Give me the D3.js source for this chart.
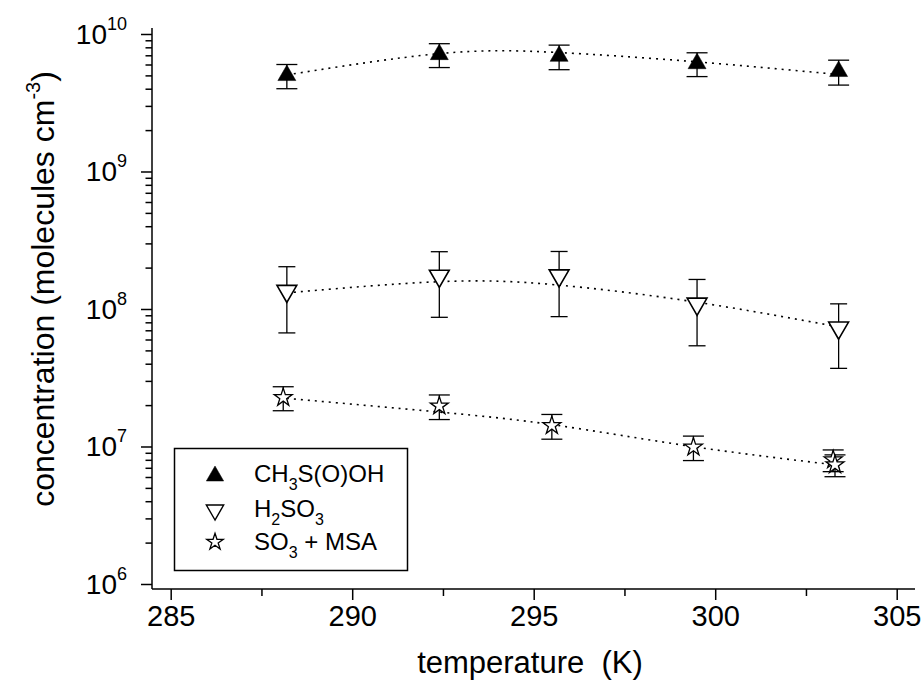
<!DOCTYPE html>
<html>
<head>
<meta charset="utf-8">
<script src="https://cdn.jsdelivr.net/npm/d3@7"></script>
<style>
  body { margin: 0; background: #fff; }
  text { font-family: "Liberation Sans", Arial, Helvetica, sans-serif; fill: #000; white-space: pre; }
</style>
</head>
<body>
<div id="chart"></div>
<script>
// temperatures (K)
var tempTri = [288.2, 292.4, 295.7, 299.5, 303.4];
var tempStar = [288.1, 292.4, 295.5, 299.4, 303.25, 303.3];

// concentrations (molecules cm-3) and +/- errors
var ch3Val = [5.0e9, 7.1e9, 6.9e9, 6.1e9, 5.35e9];
var ch3Err = [1.0e9, 1.4e9, 1.4e9, 1.2e9, 1.1e9];
var h2so3Val = [1.35e8, 1.74e8, 1.75e8, 1.09e8, 7.3e7];
var h2so3Err = [6.8e7, 8.7e7, 8.7e7, 5.5e7, 3.6e7];
var so3Val = [2.27e7, 1.97e7, 1.42e7, 9.9e6, 8.0e6, 7.36e6];
var so3Err = [4.5e6, 4.0e6, 2.9e6, 2.0e6, 1.44e6, 1.33e6];

// dotted fit curves
var fitT = [288.2, 292.4, 295.6, 299.4, 303.3];
var ch3Fit = [5.04e9, 7.2e9, 7.35e9, 6.3e9, 5.1e9];
var h2so3Fit = [1.31e8, 1.58e8, 1.50e8, 1.13e8, 7.5e7];
var so3Fit = [2.24e7, 1.78e7, 1.43e7, 9.97e6, 7.35e6];

var xTicks = [285, 290, 295, 300, 305];
var xMinor = [287.5, 292.5, 297.5, 302.5];
var yExp = [6, 7, 8, 9, 10];

var W = 924, H = 695;
var pLeft = 152, pRight = 915, pTop = 28, pBottom = 589;

var svg = d3.select("#chart")
    .append("svg")
    .attr("width", W)
    .attr("height", H);

var x = d3.scaleLinear()
    .domain([284.485, 305.504])
    .range([pLeft, pRight]);

var y = d3.scaleLog()
    .domain([Math.pow(10, 5.9636), Math.pow(10, 10.0436)])
    .range([pBottom, pTop]);

// x axis
var xAxis = svg.append("g")
    .attr("transform", "translate(0," + pBottom + ")")
    .call(d3.axisBottom(x).tickValues(xTicks).tickSize(11).tickFormat(d3.format("d")));
xAxis.selectAll(".tick text")
    .style("font-size", "29px")
    .attr("y", 16)
    .attr("dy", "0.71em");

svg.append("g")
    .attr("transform", "translate(0," + pBottom + ")")
    .call(d3.axisBottom(x).tickValues(xMinor).tickSize(7).tickFormat(""))
    .select(".domain").remove();

// y axis (log)
var yMinorVals = [];
for (var e = 6; e < 10; e++) {
    for (var m = 2; m <= 9; m++) yMinorVals.push(m * Math.pow(10, e));
}
var yMajor = yExp.map(function (k) { return Math.pow(10, k); });

var yAxis = svg.append("g")
    .attr("transform", "translate(" + pLeft + ",0)")
    .call(d3.axisLeft(y).tickValues(yMajor).tickSize(11).tickFormat(""));

svg.append("g")
    .attr("transform", "translate(" + pLeft + ",0)")
    .call(d3.axisLeft(y).tickValues(yMinorVals).tickSize(6.5).tickFormat(""))
    .select(".domain").remove();

svg.selectAll(".domain, .tick line").attr("stroke", "#000").attr("stroke-width", 1.5);
xAxis.select(".domain").attr("d", "M" + pLeft + ",0H" + pRight);
yAxis.select(".domain").attr("d", "M0," + pBottom + "V" + pTop);

// y tick labels: 10^n
yExp.forEach(function (k) {
    var t = svg.append("text")
        .attr("text-anchor", "end")
        .attr("x", 127)
        .attr("y", y(Math.pow(10, k)) + 10)
        .style("font-size", "28px");
    t.append("tspan").text("10");
    t.append("tspan").attr("dy", -14).style("font-size", "18px").text(k);
});

// dotted fits
var line = d3.line()
    .x(function (d) { return x(d[0]); })
    .y(function (d) { return y(d[1]); })
    .curve(d3.curveNatural);

[ch3Fit, h2so3Fit, so3Fit].forEach(function (f) {
    svg.append("path")
        .datum(fitT.map(function (t, i) { return [t, f[i]]; }))
        .attr("fill", "none")
        .attr("stroke", "#000")
        .attr("stroke-width", 1.6)
        .attr("stroke-dasharray", "2,5")
        .attr("d", line);
});

// error bars + markers
function drawSeries(temps, vals, errs, capW, sym) {
    var g = svg.append("g");
    temps.forEach(function (t, i) {
        var cx = x(t), y1 = y(vals[i] + errs[i]), y2 = y(vals[i] - errs[i]);
        g.append("line").attr("x1", cx).attr("x2", cx).attr("y1", y1).attr("y2", y2)
            .attr("stroke", "#000").attr("stroke-width", 1.3);
        [y1, y2].forEach(function (yy) {
            g.append("line").attr("x1", cx - capW / 2).attr("x2", cx + capW / 2)
                .attr("y1", yy).attr("y2", yy)
                .attr("stroke", "#000").attr("stroke-width", 1.3);
        });
    });
    temps.forEach(function (t, i) {
        g.append("path")
            .attr("transform", "translate(" + x(t) + "," + y(vals[i]) + ")" + (sym.rot ? " rotate(180)" : ""))
            .attr("d", d3.symbol().type(sym.type).size(sym.size)())
            .attr("fill", sym.fill)
            .attr("stroke", "#000")
            .attr("stroke-width", sym.sw);
    });
}

var triUp = { type: d3.symbolTriangle, size: 140, fill: "#000", sw: 0.5, rot: false };
var triDown = { type: d3.symbolTriangle, size: 170, fill: "#fff", sw: 1.6, rot: true };
var star = { type: d3.symbolStar, size: 100, fill: "#fff", sw: 1.3, rot: false };

drawSeries(tempTri, ch3Val, ch3Err, 21, triUp);
drawSeries(tempTri, h2so3Val, h2so3Err, 17, triDown);
drawSeries(tempStar, so3Val, so3Err, 21, star);

// legend
svg.append("rect")
    .attr("x", 174.5).attr("y", 448.5)
    .attr("width", 233).attr("height", 122)
    .attr("fill", "#fff").attr("stroke", "#000").attr("stroke-width", 1.5);

var legendRows = [
    { sym: triUp, size: 130, cy: 476, base: 482, parts: [["CH", 0], ["3", 1], ["S(O)OH", 0]] },
    { sym: triDown, size: 130, cy: 510, base: 517, parts: [["H", 0], ["2", 1], ["SO", 0], ["3", 1]] },
    { sym: star, size: 85, cy: 542, base: 550, parts: [["SO", 0], ["3", 1], [" + MSA", 0]] }
];

legendRows.forEach(function (r) {
    svg.append("path")
        .attr("transform", "translate(215," + r.cy + ")" + (r.sym.rot ? " rotate(180)" : ""))
        .attr("d", d3.symbol().type(r.sym.type).size(r.size)())
        .attr("fill", r.sym.fill)
        .attr("stroke", "#000")
        .attr("stroke-width", r.sym.rot ? 1.4 : r.sym.sw);
    var t = svg.append("text")
        .attr("x", 254).attr("y", r.base)
        .style("font-size", "24px");
    var shifted = 0;
    r.parts.forEach(function (p) {
        var dy = p[1] ? 8 - shifted : -shifted;
        shifted = p[1] ? 8 : 0;
        t.append("tspan").attr("dy", dy)
            .style("font-size", p[1] ? "16px" : "24px")
            .text(p[0]);
    });
});

// axis titles
svg.append("text")
    .attr("text-anchor", "middle")
    .attr("x", 530)
    .attr("y", 673)
    .style("font-size", "31px")
    .text("temperature  (K)");

var yt = svg.append("text")
    .attr("text-anchor", "middle")
    .attr("transform", "translate(54,289) rotate(-90)")
    .style("font-size", "32px");
yt.append("tspan").text("concentration (molecules cm");
yt.append("tspan").attr("dy", -14).style("font-size", "20px").text("-3");
yt.append("tspan").attr("dy", 14).text(")");
</script>
</body>
</html>
